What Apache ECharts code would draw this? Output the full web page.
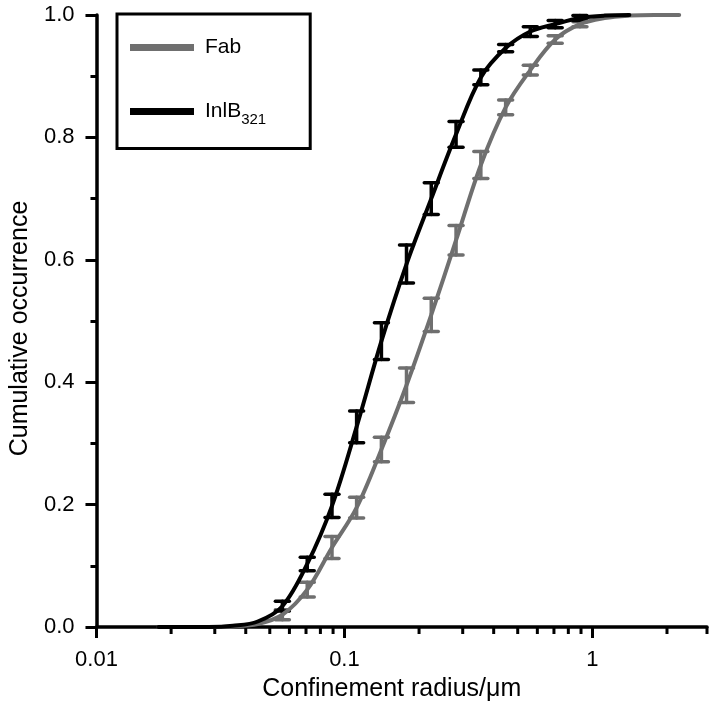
<!DOCTYPE html>
<html>
<head>
<meta charset="utf-8">
<script src="https://cdn.jsdelivr.net/npm/echarts@6/dist/echarts.min.js"></script>
<style>
  html, body { margin: 0; padding: 0; background: #fff; }
  #chart { width: 709px; height: 712px; }
</style>
</head>
<body>
<div id="chart"></div>
<script>
// bin centres (µm), 0.1 decade apart
const radius = [0.0178, 0.0224, 0.0282, 0.0355, 0.0447, 0.0562, 0.0708, 0.0891, 0.112, 0.141, 0.178,
  0.224, 0.282, 0.355, 0.447, 0.562, 0.708, 0.891, 1.12, 1.41, 1.78, 2.24]
// cumulative occurrence
const fab = [0, 0, 0, 0.001, 0.005, 0.02, 0.061, 0.13, 0.195, 0.29, 0.395,
  0.51, 0.632, 0.755, 0.849, 0.91, 0.96, 0.985, 0.995, 0.999, 1, 1]
const fabErr = [null, null, null, null, null, 0.008, 0.012, 0.018, 0.017, 0.02, 0.028,
  0.027, 0.024, 0.022, 0.012, 0.008, 0.006, 0.004, null, null, null, null]
const inlb = [0, 0, 0, 0.002, 0.009, 0.034, 0.103, 0.198, 0.327, 0.467, 0.593,
  0.70, 0.805, 0.898, 0.946, 0.973, 0.985, 0.995, 0.999, 1]
const inlbErr = [null, null, null, null, null, 0.008, 0.011, 0.019, 0.026, 0.03, 0.031,
  0.026, 0.021, 0.012, 0.006, 0.008, 0.006, 0.004, null, null]

const seriesNames = ['Fab', 'InlB321']
const colors = ['#6f6f6f', '#000000']
const xMin = 0.01
const xMax = 2.9
const xMajorTicks = [0.01, 0.1, 1]
const xMinorTicks = [0.02, 0.03, 0.04, 0.05, 0.06, 0.07, 0.08, 0.09,
  0.2, 0.3, 0.4, 0.5, 0.6, 0.7, 0.8, 0.9, 2]

const lg = Math.log10
const font = 'Liberation Sans, Arial, sans-serif'

function linePoints(values) {
  return values.map((v, i) => [lg(radius[i]), v])
}

function errorBars(name, values, errs, color) {
  const data = []
  values.forEach((v, i) => {
    if (errs[i] != null) data.push([lg(radius[i]), v - errs[i], v + errs[i]])
  })
  return {
    name: name,
    type: 'custom',
    data: data,
    encode: {x: 0, y: [1, 2]},
    silent: true,
    renderItem: (params, api) => {
      const lo = api.coord([api.value(0), api.value(1)])
      const hi = api.coord([api.value(0), api.value(2)])
      const w = 7
      const style = {stroke: color, lineWidth: 3.5, lineCap: 'round', fill: null}
      return {
        type: 'group',
        children: [
          {type: 'line', shape: {x1: lo[0], y1: lo[1], x2: hi[0], y2: hi[1]}, style: style},
          {type: 'line', shape: {x1: lo[0] - w, y1: lo[1], x2: lo[0] + w, y2: lo[1]}, style: style},
          {type: 'line', shape: {x1: hi[0] - w, y1: hi[1], x2: hi[0] + w, y2: hi[1]}, style: style}
        ]
      }
    }
  }
}

// short outward ticks of the log axis at 2..9 of every decade
const minorTickSeries = {
  name: 'minor ticks',
  type: 'custom',
  data: xMinorTicks.concat([xMax]).map(v => [lg(v), 0]),
  encode: {x: 0, y: 1},
  silent: true,
  clip: false,
  z: 1,
  renderItem: (params, api) => {
    const p = api.coord([api.value(0), 0])
    return {
      type: 'line',
      shape: {x1: p[0], y1: p[1], x2: p[0], y2: p[1] + 7},
      style: {stroke: '#000', lineWidth: 3, fill: null}
    }
  }
}

const chart = echarts.init(document.getElementById('chart'), null, {renderer: 'canvas'})
chart.setOption({
  animation: false,
  backgroundColor: '#fff',
  textStyle: {fontFamily: font, color: '#000'},
  grid: {left: 93, right: 2, top: 15, bottom: 85},
  legend: {
    data: seriesNames,
    orient: 'vertical',
    left: 117,
    top: 14,
    icon: 'rect',
    itemWidth: 64,
    itemHeight: 7,
    itemGap: 43,
    borderColor: '#000',
    borderWidth: 3,
    padding: [23, 44, 21, 13],
    textStyle: {
      fontFamily: font,
      fontSize: 21,
      color: '#000',
      padding: [0, 0, 0, 6],
      rich: {
        sub: {fontFamily: font, fontSize: 15, color: '#000', padding: [17, 0, 0, 0]}
      }
    },
    formatter: name => name === 'InlB321' ? 'InlB{sub|321}' : name
  },
  xAxis: {
    type: 'value',
    min: lg(xMin),
    max: lg(xMax),
    name: 'Confinement radius/μm',
    nameLocation: 'middle',
    nameGap: 50,
    nameTextStyle: {fontFamily: font, fontSize: 25, color: '#000', padding: [0, 20, 0, 0]},
    axisLine: {onZero: false, lineStyle: {color: '#000', width: 3.5}},
    axisTick: {length: 11, lineStyle: {color: '#000', width: 3}, customValues: xMajorTicks.map(lg)},
    axisLabel: {
      fontSize: 22, color: '#000', margin: 22,
      customValues: xMajorTicks.map(lg),
      formatter: v => String(xMajorTicks.find(t => Math.abs(lg(t) - v) < 1e-9))
    },
    splitLine: {show: false}
  },
  yAxis: {
    type: 'value',
    min: 0,
    max: 1,
    interval: 0.2,
    name: 'Cumulative occurrence',
    nameLocation: 'middle',
    nameGap: 61,
    nameTextStyle: {fontFamily: font, fontSize: 25, color: '#000', padding: [0, 15, 0, 0]},
    axisLine: {onZero: false, lineStyle: {color: '#000', width: 3.5}},
    axisTick: {length: 11, lineStyle: {color: '#000', width: 3}},
    minorTick: {show: true, splitNumber: 2, length: 6, lineStyle: {color: '#000', width: 3}},
    axisLabel: {fontSize: 22, color: '#000', margin: 22, formatter: v => v.toFixed(1)},
    splitLine: {show: false},
    minorSplitLine: {show: false}
  },
  series: [
    minorTickSeries,
    {
      name: 'Fab',
      type: 'line',
      data: linePoints(fab),
      smooth: 0.35,
      showSymbol: false,
      color: colors[0],
      lineStyle: {width: 4, color: colors[0], cap: 'round'}
    },
    errorBars('Fab error', fab, fabErr, colors[0]),
    {
      name: 'InlB321',
      type: 'line',
      data: linePoints(inlb),
      smooth: 0.35,
      showSymbol: false,
      color: colors[1],
      lineStyle: {width: 4, color: colors[1], cap: 'round'}
    },
    errorBars('InlB321 error', inlb, inlbErr, colors[1])
  ]
})
</script>
</body>
</html>
